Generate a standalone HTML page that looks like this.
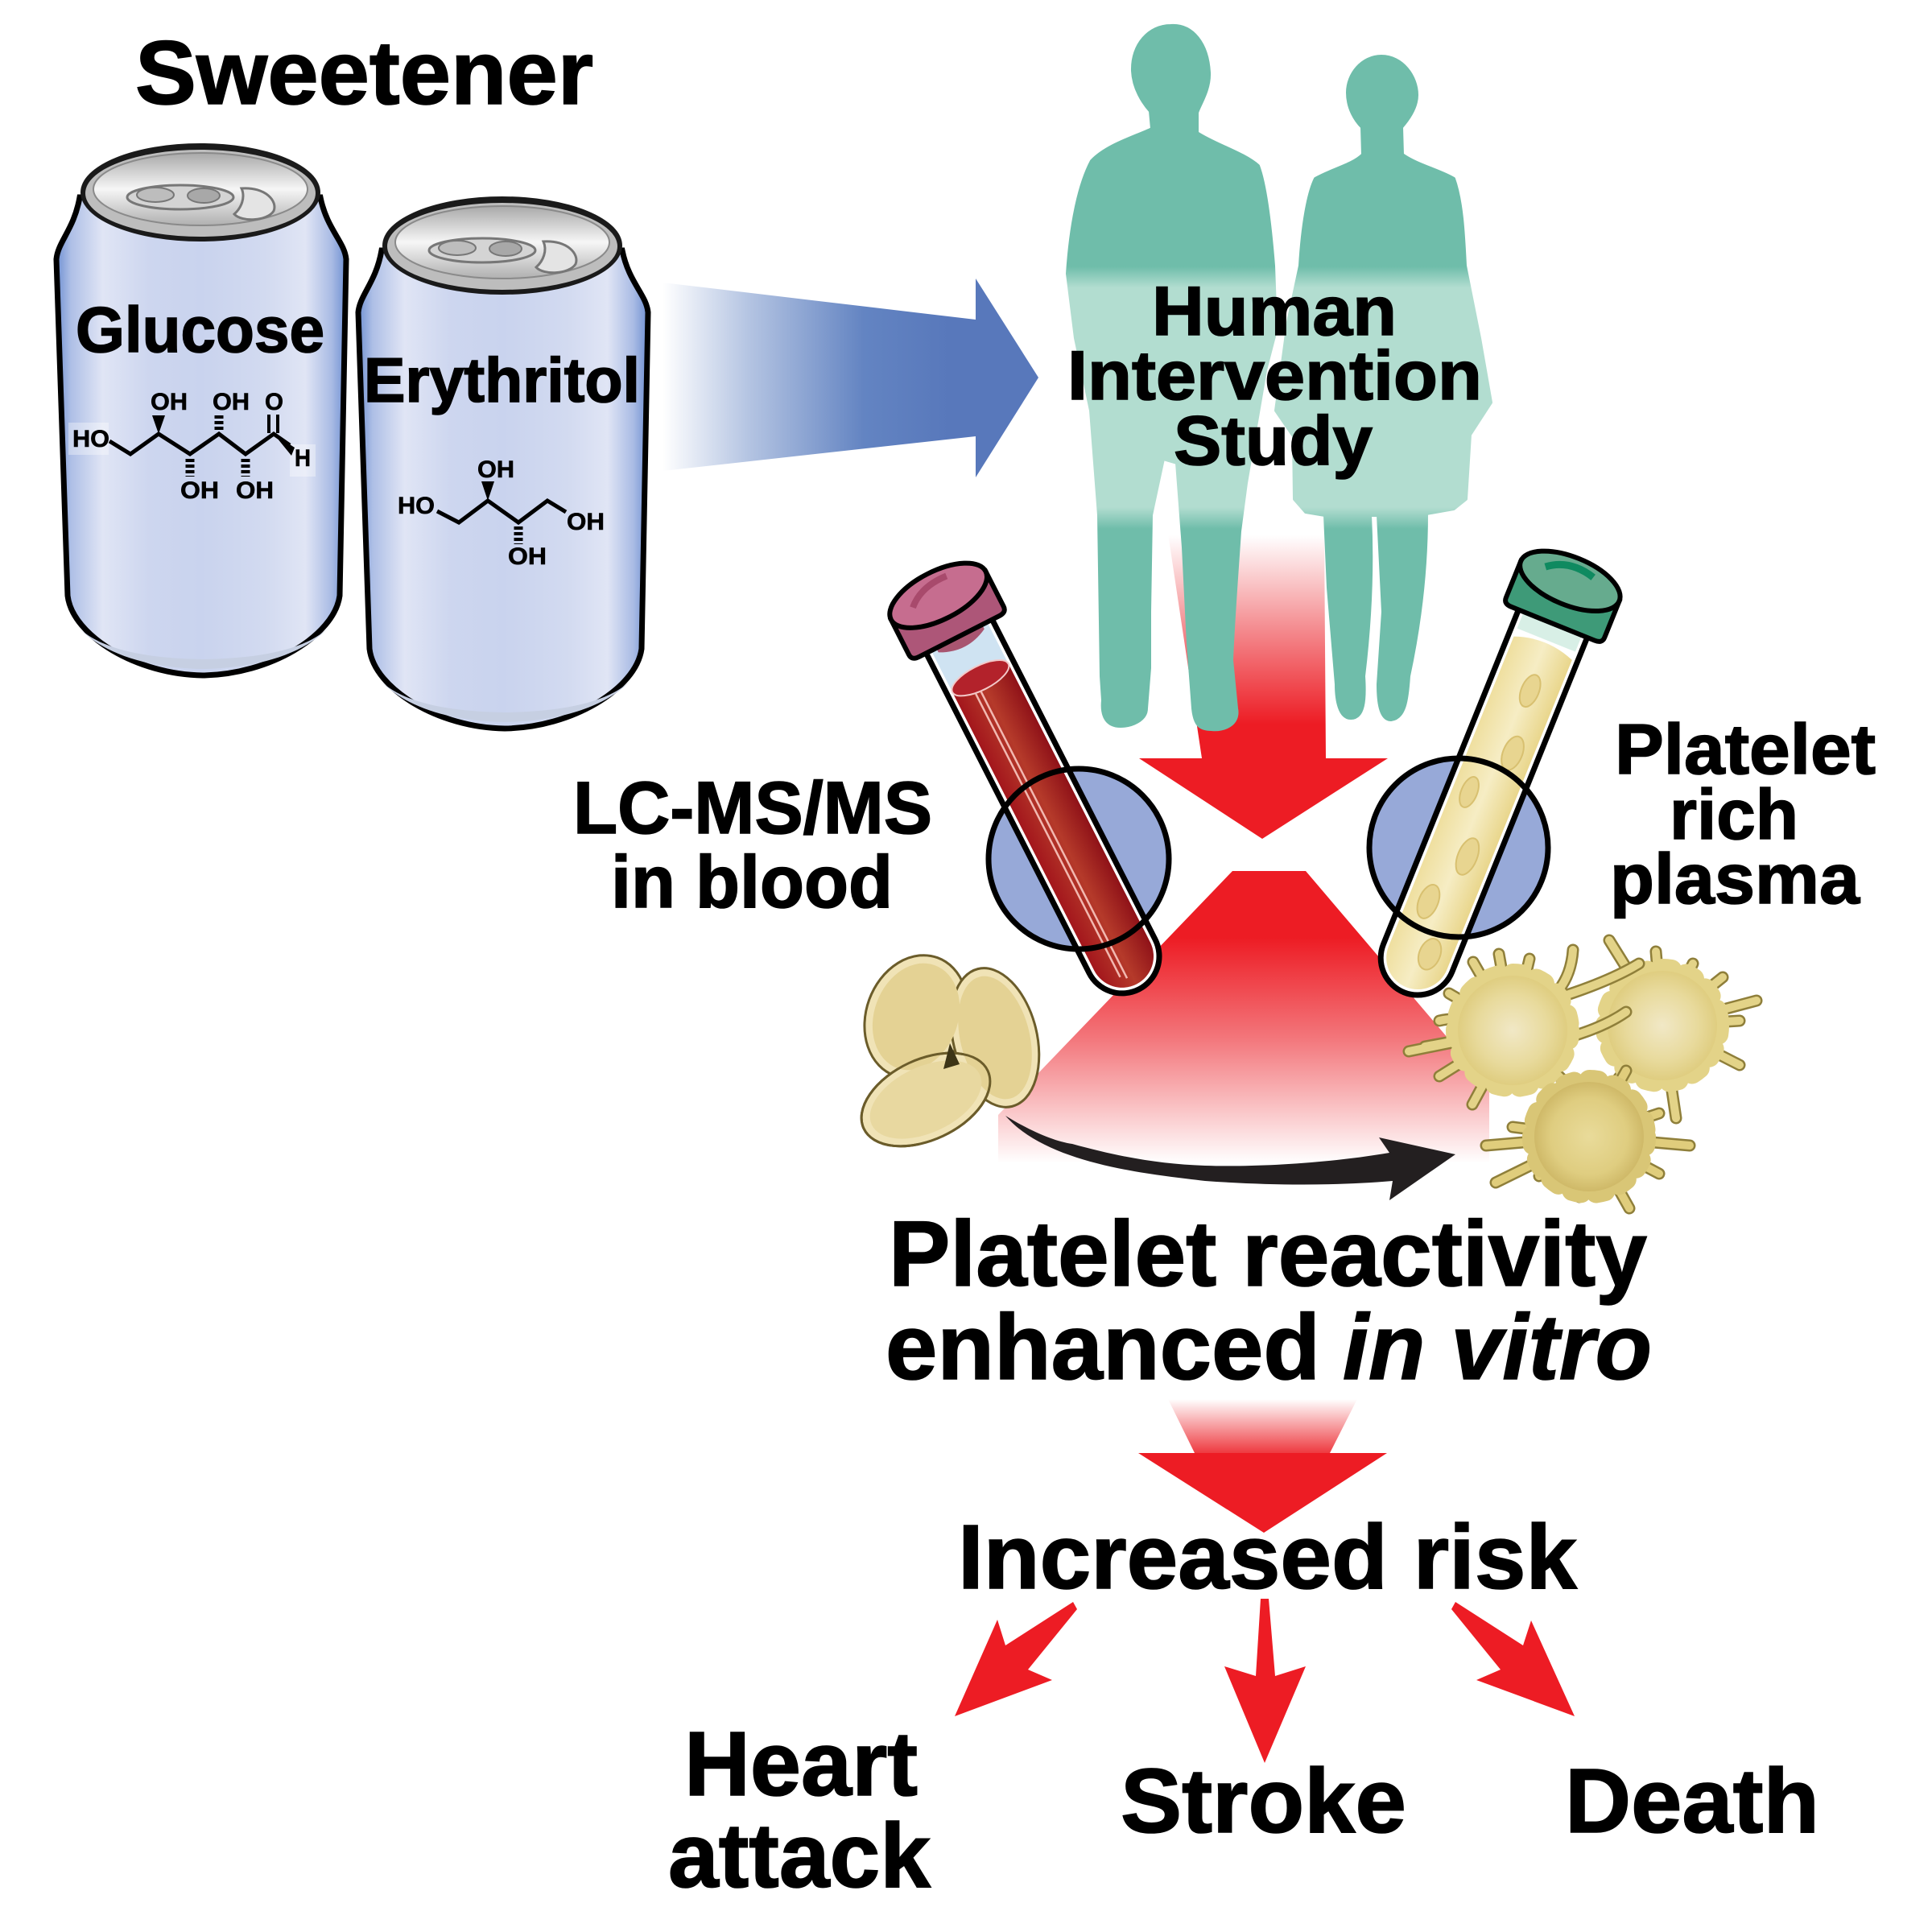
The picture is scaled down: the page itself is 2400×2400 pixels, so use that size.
<!DOCTYPE html>
<html><head><meta charset="utf-8"><title>Sweetener</title>
<style>html,body{margin:0;padding:0;background:#fff}svg{display:block}text{font-family:"Liberation Sans",sans-serif;font-weight:bold;fill:#000;stroke:#000;stroke-width:1.6}.c text{stroke-width:.6}</style></head>
<body>
<svg xmlns="http://www.w3.org/2000/svg" width="2400" height="2400" viewBox="0 0 2400 2400">
<defs>
<linearGradient id="blue" gradientUnits="userSpaceOnUse" x1="823" y1="0" x2="1180" y2="0"><stop offset="0" stop-color="#fff"/><stop offset=".3" stop-color="#b4c4e2"/><stop offset=".7" stop-color="#6384c2"/><stop offset="1" stop-color="#5878bb"/></linearGradient>
<linearGradient id="red1" gradientUnits="userSpaceOnUse" x1="0" y1="665" x2="0" y2="900"><stop offset="0" stop-color="#fff"/><stop offset=".5" stop-color="#f48a8e"/><stop offset="1" stop-color="#ed1c24"/></linearGradient>
<linearGradient id="red2" gradientUnits="userSpaceOnUse" x1="0" y1="1165" x2="0" y2="1445"><stop offset="0" stop-color="#ed1c24"/><stop offset=".45" stop-color="#f3777c"/><stop offset="1" stop-color="#fff"/></linearGradient>
<linearGradient id="red3" gradientUnits="userSpaceOnUse" x1="0" y1="1738" x2="0" y2="1805"><stop offset="0" stop-color="#fff"/><stop offset="1" stop-color="#ee3a40"/></linearGradient>
<linearGradient id="teal" gradientUnits="userSpaceOnUse" x1="0" y1="0" x2="0" y2="900"><stop offset=".368" stop-color="#6fbdaa"/><stop offset=".397" stop-color="#b2ddd0"/><stop offset=".70" stop-color="#b2ddd0"/><stop offset=".73" stop-color="#6fbdaa"/></linearGradient>
<linearGradient id="canb" x1="0" y1="0" x2="1" y2="0"><stop offset="0" stop-color="#6f90d2"/><stop offset=".05" stop-color="#aebfe6"/><stop offset=".16" stop-color="#e0e5f5"/><stop offset=".32" stop-color="#cdd6ef"/><stop offset=".5" stop-color="#c9d3ee"/><stop offset=".72" stop-color="#d2daf0"/><stop offset=".86" stop-color="#e0e5f5"/><stop offset=".95" stop-color="#a9bbe4"/><stop offset="1" stop-color="#6f90d2"/></linearGradient>
<linearGradient id="lid" x1="0" y1="0" x2="0" y2="1"><stop offset="0" stop-color="#a9a9a9"/><stop offset=".5" stop-color="#f6f6f6"/><stop offset="1" stop-color="#b0b0b0"/></linearGradient>
<linearGradient id="blood" x1="0" y1="0" x2="1" y2="0"><stop offset="0" stop-color="#a3161c"/><stop offset=".5" stop-color="#b53a2a"/><stop offset="1" stop-color="#8f1218"/></linearGradient>
<linearGradient id="plasma" x1="0" y1="0" x2="1" y2="0"><stop offset="0" stop-color="#efdf9f"/><stop offset=".5" stop-color="#f6edc4"/><stop offset="1" stop-color="#e9d68c"/></linearGradient>
<radialGradient id="plt"><stop offset="0" stop-color="#f1e8c6"/><stop offset=".65" stop-color="#e8da9c"/><stop offset="1" stop-color="#dfcd80"/></radialGradient>
<radialGradient id="plt3"><stop offset="0" stop-color="#e9db9a"/><stop offset=".7" stop-color="#dfcd80"/><stop offset="1" stop-color="#cfb968"/></radialGradient>
<g id="can">
<path d="M99,245 C92,285 72,300 70,322 L84,740 C90,790 170,838 252,839 C335,838 415,790 422,740 L430,322 C428,300 406,285 398,245 Z" fill="url(#canb)" stroke="#000" stroke-width="7"/>
<path d="M96,778 C130,815 190,830 252,831 C315,830 375,815 410,778 C380,808 320,818 252,819 C185,818 125,808 96,778 Z" fill="#c6cfe2"/>
<ellipse cx="249" cy="239" rx="149" ry="61" fill="#1a1a1a"/>
<ellipse cx="249" cy="240" rx="143" ry="54" fill="#bdbdbd"/>
<ellipse cx="249" cy="235" rx="133" ry="45" fill="url(#lid)" stroke="#8a8a8a" stroke-width="2"/>
<ellipse cx="224" cy="245" rx="66" ry="15" fill="#d4d4d4" stroke="#777" stroke-width="3"/>
<ellipse cx="193" cy="242" rx="23" ry="9" fill="#bdbdbd" stroke="#777" stroke-width="2"/>
<ellipse cx="253" cy="243" rx="20" ry="9" fill="#a8a8a8" stroke="#777" stroke-width="2"/>
<path d="M300,234 C330,232 345,250 340,262 C332,275 300,276 291,266 C300,258 305,245 300,234 Z" fill="#e4e4e4" stroke="#777" stroke-width="3"/>
</g>
<path id="s1" d="M1879,1280 L1750,1306 M1879,1280 Q1820,1260 1788,1268 M1879,1280 L1800,1234 M1879,1280 L1830,1195 M1879,1280 L1862,1185 M1879,1280 L1900,1191 M1890,1260 Q1950,1240 1954,1180 M1900,1250 Q1990,1225 2036,1197 M1879,1280 L1770,1300 M1879,1280 L1788,1337 M1879,1280 L1829,1372 M1900,1300 Q1980,1285 2020,1257 M1879,1280 L1950,1350"/>
<path id="s2" d="M2065,1274 L1999,1168 M2065,1274 L2057,1182 M2065,1274 L2103,1197 M2065,1274 L2140,1214 M2065,1274 L2182,1243 M2065,1274 L2161,1268 M2065,1274 L2161,1323 M2065,1274 L2099,1332 M2065,1274 L2082,1389 M2065,1274 L2010,1340"/>
<path id="s3" d="M1974,1412 L1846,1423 M1974,1412 L1858,1469 M1974,1412 L1912,1461 M1974,1412 L1962,1487 M1974,1412 L2024,1501 M1974,1412 L2061,1458 M1974,1412 L2099,1423 M1974,1412 L1879,1400 M1974,1412 L2061,1383 M1974,1412 L2020,1330"/>
</defs>
<rect width="2400" height="2400" fill="#fff"/>

<polygon points="823,351 1212,397 1212,346 1290,469 1212,593 1212,542 823,585" fill="url(#blue)"/>
<polygon points="1451,663 1645,663 1647,942 1724,942 1568,1042 1415,942 1493,942" fill="url(#red1)"/>
<polygon points="1531,1082 1622,1082 1850,1350 1850,1445 1240,1445 1240,1385" fill="url(#red2)"/>
<polygon points="1451,1738 1686,1738 1652,1805 1484,1805" fill="url(#red3)"/>
<polygon points="1414,1805 1723,1805 1570,1904" fill="#ed1c24"/>
<polygon points="1333,1990 1249,2044 1239,2012 1186,2132 1307,2087 1277,2074 1338,1999" fill="#ed1c24"/>
<polygon points="1566,1986 1576,1986 1584,2082 1622,2070 1571,2190 1521,2070 1560,2082" fill="#ed1c24"/>
<polygon points="1808,1990 1803,1999 1864,2074 1834,2087 1956,2132 1902,2013 1892,2044" fill="#ed1c24"/>

<use href="#can"/>
<use href="#can" transform="translate(375,66)"/>

<!-- people -->
<path fill="url(#teal)" stroke="url(#teal)" stroke-width="4" stroke-linejoin="round" d="M1454,32 C1482,30 1500,55 1502,90 C1503,112 1490,130 1487,140 L1487,165 C1510,180 1545,190 1563,206 C1572,230 1578,280 1582,330 L1585,410 L1572,460 L1548,600 L1540,660 C1536,720 1532,770 1530,820 L1536,880 C1540,900 1520,908 1505,906 C1490,906 1484,900 1482,880 L1476,800 L1470,680 L1462,575 L1445,570 L1430,640 L1428,760 L1428,830 L1424,880 C1424,895 1405,902 1392,902 C1375,902 1368,890 1370,870 L1368,840 L1365,640 L1355,510 L1336,420 L1326,340 C1330,280 1340,230 1356,200 C1375,180 1410,170 1431,160 L1429,138 C1420,128 1408,110 1407,88 C1406,55 1428,32 1454,32 Z"/>
<path fill="url(#teal)" stroke="url(#teal)" stroke-width="4" stroke-linejoin="round" d="M1716,70 C1742,70 1760,95 1760,118 C1760,135 1748,150 1741,158 L1742,192 C1760,205 1790,212 1806,222 C1816,250 1818,290 1820,330 L1838,420 L1852,500 L1826,540 L1821,620 L1806,632 L1772,638 C1772,700 1765,770 1750,840 C1748,870 1745,892 1728,894 C1714,894 1712,870 1712,850 L1718,760 L1712,640 L1702,640 C1706,720 1700,790 1694,840 C1696,870 1694,892 1678,892 C1664,892 1660,870 1660,850 L1650,730 L1646,640 L1622,636 L1608,620 L1607,542 L1585,510 L1600,400 L1615,330 C1618,280 1625,240 1634,222 C1655,210 1680,205 1693,192 L1692,158 C1684,150 1674,135 1674,115 C1674,92 1692,70 1716,70 Z"/>

<!-- lens fills -->
<circle cx="1340" cy="1067" r="112" fill="#97a9d8"/>
<circle cx="1812" cy="1053" r="111" fill="#97a9d8"/>

<!-- red tube -->
<g transform="translate(1177,762) rotate(-27)">
<path d="M-46,20 L-46,478 A46,46 0 0 0 46,478 L46,20 Z" fill="#fff" stroke="#000" stroke-width="7"/>
<rect x="-39" y="30" width="78" height="70" fill="#cfe3f2"/>
<path d="M-39,90 L-39,478 A39,39 0 0 0 39,478 L39,90 Z" fill="url(#blood)"/>
<ellipse cx="0" cy="90" rx="39" ry="15" fill="#b3222b" stroke="#f3c9c9" stroke-width="2"/>
<path d="M-14,105 L-14,500 M-7,105 L-7,505" stroke="#f2b8b0" stroke-width="2.5" fill="none"/>
<path d="M-32,38 L-32,30 L32,30 L32,38 Q0,55 -32,38 Z" fill="#a85570"/>
<path d="M-66,-25 L-66,24 Q-66,32 -56,32 L56,32 Q66,32 66,24 L66,-25 Z" fill="#ad5678" stroke="#000" stroke-width="6"/>
<ellipse cx="0" cy="-25" rx="66" ry="30" fill="#c66d8f" stroke="#000" stroke-width="6"/>
<path d="M-35,-26 Q-15,-45 20,-42" stroke="#a84a6c" stroke-width="8" fill="none"/>
</g>

<!-- yellow tube -->
<g transform="translate(1941,745) rotate(22)">
<path d="M-46,20 L-46,480 A46,46 0 0 0 46,480 L46,20 Z" fill="#fff" stroke="#000" stroke-width="7"/>
<path d="M-39,65 Q0,50 39,65 L39,480 A39,39 0 0 1 -39,480 Z" fill="url(#plasma)"/>
<g fill="#e8d590" stroke="#d8c070" stroke-width="2">
<ellipse cx="5" cy="120" rx="11" ry="21"/><ellipse cx="14" cy="200" rx="12" ry="22"/><ellipse cx="-18" cy="265" rx="10" ry="20"/><ellipse cx="10" cy="340" rx="12" ry="24"/><ellipse cx="-14" cy="410" rx="12" ry="22"/><ellipse cx="12" cy="470" rx="13" ry="20"/>
</g>
<rect x="-39" y="30" width="78" height="24" fill="#d8efe6"/>
<path d="M-66,-25 L-66,24 Q-66,32 -56,32 L56,32 Q66,32 66,24 L66,-25 Z" fill="#3e9a78" stroke="#000" stroke-width="6"/>
<ellipse cx="0" cy="-25" rx="66" ry="30" fill="#66ab8e" stroke="#000" stroke-width="6"/>
<path d="M-35,-30 Q-10,-50 25,-40" stroke="#0f8a60" stroke-width="9" fill="none"/>
</g>

<!-- lens outlines -->
<circle cx="1340" cy="1067" r="112" fill="none" stroke="#000" stroke-width="7"/>
<circle cx="1812" cy="1053" r="111" fill="none" stroke="#000" stroke-width="7"/>

<!-- resting platelets -->
<g stroke="#6b5c2a" stroke-width="3">
<ellipse cx="1138" cy="1263" rx="62" ry="78" transform="rotate(20 1138 1263)" fill="#f0e3b6"/>
<ellipse cx="1236" cy="1289" rx="52" ry="88" transform="rotate(-14 1236 1289)" fill="#f0e3b6"/>
<ellipse cx="1150" cy="1366" rx="85" ry="50" transform="rotate(-25 1150 1366)" fill="#f0e3b6"/>
</g>
<ellipse cx="1138" cy="1263" rx="52" ry="68" transform="rotate(20 1138 1263)" fill="#e4d294"/>
<ellipse cx="1236" cy="1289" rx="43" ry="78" transform="rotate(-14 1236 1289)" fill="#e4d294"/>
<ellipse cx="1150" cy="1366" rx="85" ry="50" transform="rotate(-25 1150 1366)" fill="none" stroke="#6b5c2a" stroke-width="3"/>
<ellipse cx="1150" cy="1366" rx="74" ry="41" transform="rotate(-25 1150 1366)" fill="#e8d8a0"/>
<path d="M1180,1296 L1192,1322 L1172,1328 Z" fill="#3d3517"/>

<!-- curved arrow -->
<path d="M1249,1386 C1280,1405 1310,1418 1332,1421 C1390,1437 1440,1446 1497,1448 C1560,1450 1650,1445 1726,1432 L1713,1413 L1808,1434 L1726,1491 L1730,1467 C1660,1473 1580,1473 1497,1467 C1420,1458 1300,1445 1249,1386 Z" fill="#231f20"/>

<!-- activated platelets -->
<g fill="none" stroke-linecap="round">
<use href="#s2" stroke="#8f7f3a" stroke-width="15"/><use href="#s2" stroke="#e3d388" stroke-width="10"/><circle cx="2065" cy="1274" r="70" stroke="#e3d388" stroke-width="26" stroke-dasharray="11 19"/><circle cx="2065" cy="1274" r="68" fill="url(#plt)"/>
<use href="#s1" stroke="#8f7f3a" stroke-width="15"/><use href="#s1" stroke="#e3d388" stroke-width="10"/><circle cx="1879" cy="1280" r="70" stroke="#e3d388" stroke-width="26" stroke-dasharray="11 19"/><circle cx="1879" cy="1280" r="68" fill="url(#plt)"/>
<use href="#s3" stroke="#8f7f3a" stroke-width="15"/><use href="#s3" stroke="#e0cd7c" stroke-width="10"/><circle cx="1974" cy="1412" r="70" stroke="#d9c676" stroke-width="26" stroke-dasharray="11 19"/><circle cx="1974" cy="1412" r="68" fill="url(#plt3)"/>
</g>

<!-- chem glucose -->
<g class="c">
<rect x="85" y="525" width="50" height="40" fill="#fff" opacity=".35"/>
<rect x="360" y="552" width="32" height="40" fill="#fff" opacity=".35"/>
<path d="M136,548 L162,564 L197,539 L236,564 L272,539 L305,564 L340,539 L360,553" fill="none" stroke="#000" stroke-width="5"/>
<path d="M334,538 L334,515 M345,538 L345,515" stroke="#000" stroke-width="4"/>
<polygon points="197,539 189,516 205,516" fill="#000"/>
<polygon points="340,539 366,556 362,566" fill="#000"/>
<path d="M236,570 L236,592 M272,534 L272,516 M305,570 L305,592" stroke="#000" stroke-width="11" stroke-dasharray="4 3"/>
<g font-size="30">
<text x="90" y="555" textLength="46" lengthAdjust="spacingAndGlyphs">HO</text>
<text x="187" y="509" textLength="46" lengthAdjust="spacingAndGlyphs">OH</text>
<text x="264" y="509" textLength="46" lengthAdjust="spacingAndGlyphs">OH</text>
<text x="329" y="509" textLength="23" lengthAdjust="spacingAndGlyphs">O</text>
<text x="224" y="619" textLength="48" lengthAdjust="spacingAndGlyphs">OH</text>
<text x="293" y="619" textLength="47" lengthAdjust="spacingAndGlyphs">OH</text>
<text x="366" y="579" textLength="20" lengthAdjust="spacingAndGlyphs">H</text>
</g>
<!-- chem erythritol -->
<path d="M543,635 L570,649 L606,622 L644,649 L680,622 L703,636" fill="none" stroke="#000" stroke-width="5"/>
<polygon points="606,622 598,598 614,598" fill="#000"/>
<path d="M644,654 L644,676" stroke="#000" stroke-width="11" stroke-dasharray="4 3"/>
<g font-size="30">
<text x="494" y="638" textLength="46" lengthAdjust="spacingAndGlyphs">HO</text>
<text x="593" y="593" textLength="46" lengthAdjust="spacingAndGlyphs">OH</text>
<text x="704" y="658" textLength="47" lengthAdjust="spacingAndGlyphs">OH</text>
<text x="631" y="701" textLength="48" lengthAdjust="spacingAndGlyphs">OH</text>
</g>
</g>

<!-- labels -->
<text x="168" y="129" font-size="112" textLength="569" lengthAdjust="spacingAndGlyphs">Sweetener</text>
<text x="94" y="437" font-size="80" textLength="309" lengthAdjust="spacingAndGlyphs">Glucose</text>
<text x="452" y="499" font-size="78" textLength="343" lengthAdjust="spacingAndGlyphs">Erythritol</text>
<text x="1431" y="416" font-size="86" textLength="304" lengthAdjust="spacingAndGlyphs">Human</text>
<text x="1326" y="496" font-size="86" textLength="515" lengthAdjust="spacingAndGlyphs">Intervention</text>
<text x="1458" y="577" font-size="86" textLength="247" lengthAdjust="spacingAndGlyphs">Study</text>
<text x="712" y="1035" font-size="92" textLength="446" lengthAdjust="spacingAndGlyphs">LC-MS/MS</text>
<text x="759" y="1127" font-size="92" textLength="350" lengthAdjust="spacingAndGlyphs">in blood</text>
<text x="2006" y="961" font-size="88" textLength="324" lengthAdjust="spacingAndGlyphs">Platelet</text>
<text x="2074" y="1042" font-size="88" textLength="160" lengthAdjust="spacingAndGlyphs">rich</text>
<text x="2000" y="1122" font-size="88" textLength="310" lengthAdjust="spacingAndGlyphs">plasma</text>
<text x="1104" y="1597" font-size="115" textLength="942" lengthAdjust="spacingAndGlyphs">Platelet reactivity</text>
<text x="1100" y="1713" font-size="115" textLength="540" lengthAdjust="spacingAndGlyphs">enhanced</text>
<text x="1668" y="1713" font-size="115" font-style="italic" textLength="384" lengthAdjust="spacingAndGlyphs">in vitro</text>
<text x="1190" y="1973" font-size="113" textLength="769" lengthAdjust="spacingAndGlyphs">Increased risk</text>
<text x="850" y="2230" font-size="113" textLength="290" lengthAdjust="spacingAndGlyphs">Heart</text>
<text x="830" y="2344" font-size="113" textLength="326" lengthAdjust="spacingAndGlyphs">attack</text>
<text x="1392" y="2276" font-size="113" textLength="355" lengthAdjust="spacingAndGlyphs">Stroke</text>
<text x="1944" y="2276" font-size="113" textLength="316" lengthAdjust="spacingAndGlyphs">Death</text>
</svg>
</body></html>
